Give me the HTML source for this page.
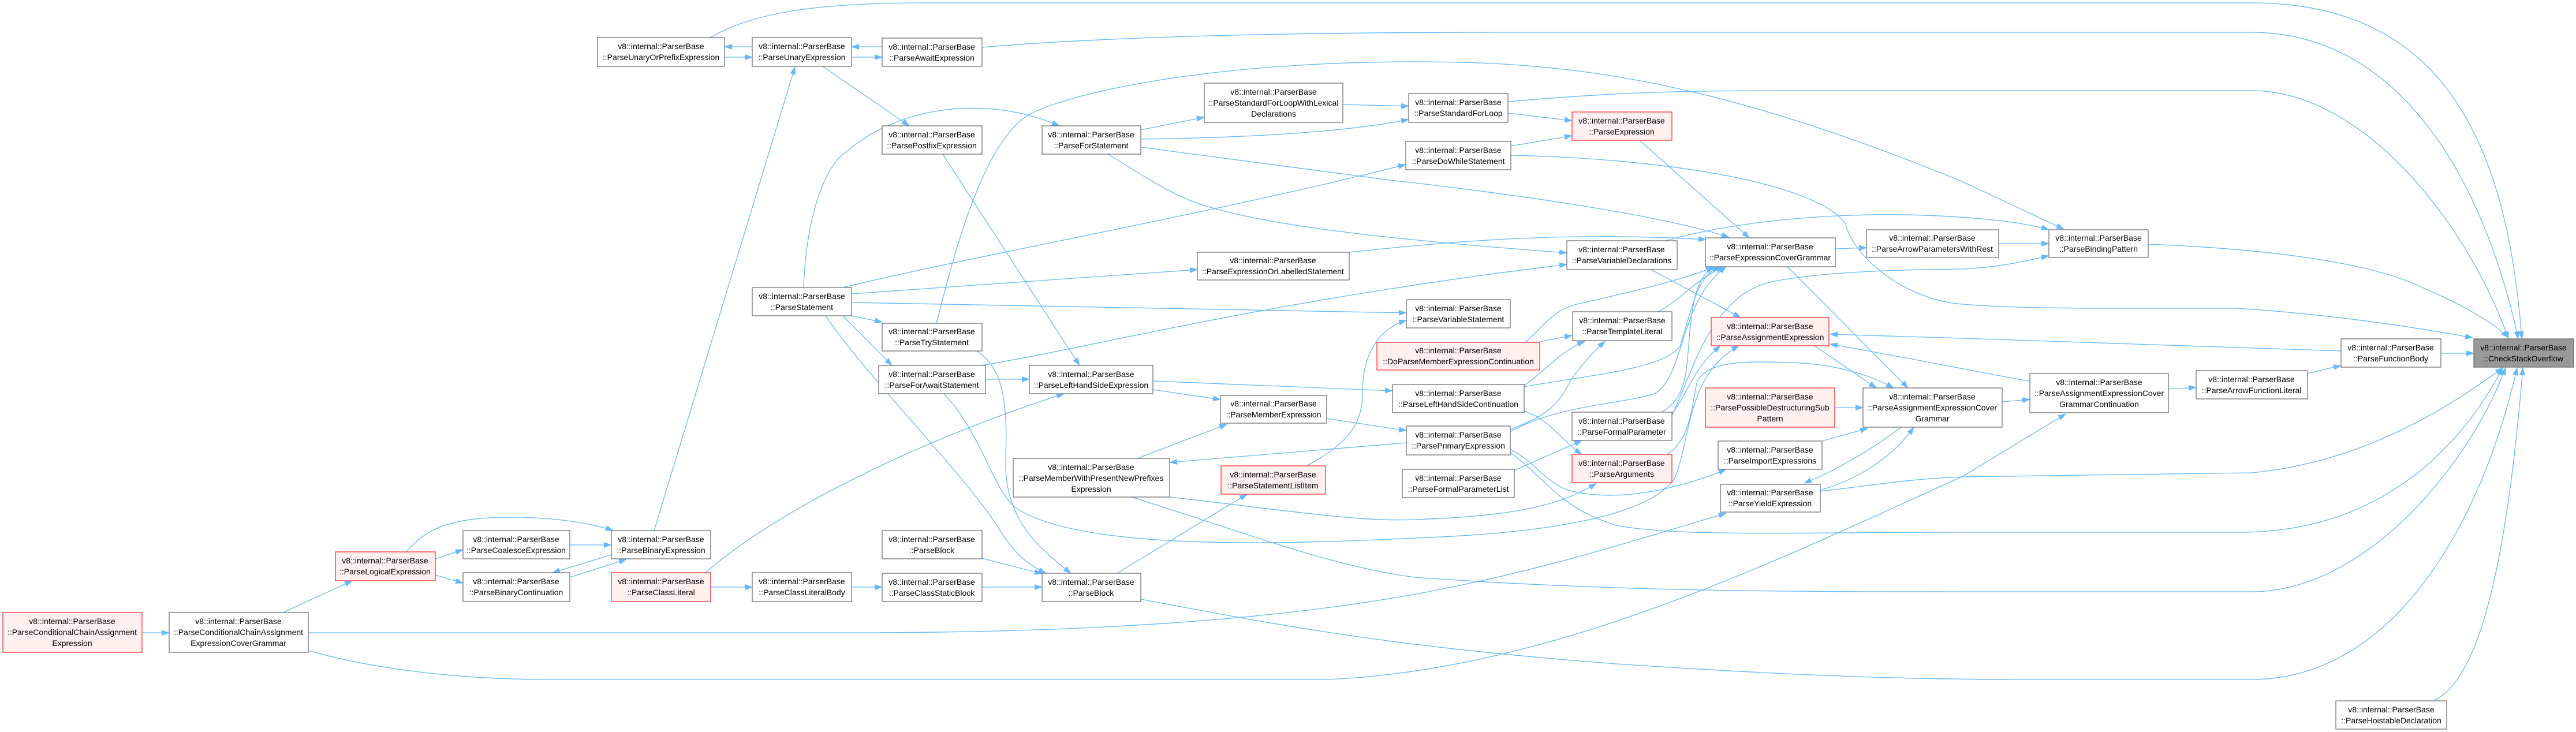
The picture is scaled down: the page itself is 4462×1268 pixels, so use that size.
<!DOCTYPE html>
<html><head><meta charset="utf-8"><style>
html,body{margin:0;padding:0;background:#fff;}
svg{display:block;}
text{font-family:"Liberation Sans",sans-serif;font-size:14px;fill:#000;text-anchor:middle;}
.n rect{fill:#fff;stroke:#666;stroke-width:1.2;}
.r rect{fill:#fff0f0;stroke:#ff2020;stroke-width:1.2;}
.g rect{fill:#999;stroke:#666;stroke-width:1.2;}
path.e{fill:none;stroke:#63b8ff;stroke-width:1.3;}
</style></head><body>
<svg width="4462" height="1268" viewBox="0 0 4462 1268" xmlns="http://www.w3.org/2000/svg">
<defs><marker id="a" markerWidth="14" markerHeight="10" refX="13" refY="5" orient="auto" markerUnits="userSpaceOnUse"><path d="M0,0 L14,5 L0,10 Z" fill="#63b8ff"/></marker></defs>
<g marker-end="url(#a)">
<path class="e" d="M1303,81 L1255,81"/>
<path class="e" d="M1255,99 L1303,99"/>
<path class="e" d="M1528,81 L1475,81"/>
<path class="e" d="M1475,99 L1528,99"/>
<path class="e" d="M1230,65 C1300,25 1400,5 1600,5 L3900,5 C4200,5 4340,200 4368,587"/>
<path class="e" d="M1701,82 C1900,65 2200,56 2600,56 L3900,56 C4150,56 4300,300 4362,587"/>
<path class="e" d="M2612,176 C2800,160 2900,157 3100,157 L3900,157 C4100,157 4280,400 4345,587"/>
<path class="e" d="M2617,269 C2900,275 3150,320 3197,388 C3210,445 3300,520 3400,527 C3500,535 3600,534 3874,534 C4050,545 4200,570 4283,585"/>
<path class="e" d="M1622,560 C1650,450 1700,250 1780,200 C1850,160 2100,107 2450,107 C2700,107 2950,130 3400,315 L3575,397"/>
<path class="e" d="M1392,498 C1395,400 1420,290 1470,260 C1550,190 1700,160 1835,218"/>
<path class="e" d="M1425,115 L1575,218"/>
<path class="e" d="M1976,225 L2086,203"/>
<path class="e" d="M1976,241 C2200,238 2350,225 2440,207"/>
<path class="e" d="M2326,181 L2440,184"/>
<path class="e" d="M2612,196 L2723,209"/>
<path class="e" d="M2617,253 L2723,235"/>
<path class="e" d="M1976,255 L2400,311 C2700,345 2900,380 2995,411"/>
<path class="e" d="M1919,267 C1990,310 2040,345 2100,360 C2200,390 2400,415 2714,438"/>
<path class="e" d="M1460,498 C1700,440 2100,370 2435,285"/>
<path class="e" d="M1475,509 L2074,467"/>
<path class="e" d="M1475,524 L2436,542"/>
<path class="e" d="M1475,547 L1528,558"/>
<path class="e" d="M1460,547 L1545,633"/>
<path class="e" d="M1430,547 C1500,650 1650,800 1720,900 C1740,930 1760,970 1812,993"/>
<path class="e" d="M1133,919 L1377,116"/>
<path class="e" d="M1692,608 C1740,640 1745,700 1742,800 C1740,900 1800,950 1855,993"/>
<path class="e" d="M1707,657 L1783,657"/>
<path class="e" d="M1700,633 C1900,600 2200,520 2714,458"/>
<path class="e" d="M1635,682 C1700,750 1720,850 1760,880 C1850,940 2100,950 2450,932 C2650,925 2850,900 2900,830 C2930,760 2920,650 3012,599"/>
<path class="e" d="M1633,267 L1870,633"/>
<path class="e" d="M1222,992 C1350,880 1600,760 1843,682"/>
<path class="e" d="M1997,660 L2412,677"/>
<path class="e" d="M1997,675 L2114,692"/>
<path class="e" d="M1970,794 L2125,735"/>
<path class="e" d="M2298,725 L2436,746"/>
<path class="e" d="M2436,767 L2026,801"/>
<path class="e" d="M2026,861 C2200,880 2350,905 2450,900 C2600,895 2700,880 2765,837"/>
<path class="e" d="M1960,861 C2150,920 2300,980 2450,1000 C2800,1025 3100,1025 3400,1025 L3900,1025 C4100,1025 4280,800 4340,637"/>
<path class="e" d="M2263,807 C2330,770 2360,740 2360,680 C2360,600 2400,565 2436,555"/>
<path class="e" d="M1701,967 L1805,994"/>
<path class="e" d="M1701,1017 L1805,1017"/>
<path class="e" d="M1475,1017 L1528,1017"/>
<path class="e" d="M1231,1017 L1303,1017"/>
<path class="e" d="M1935,993 L2160,856"/>
<path class="e" d="M1976,1038 C2200,1080 2400,1120 2800,1150 C3100,1170 3300,1177 3500,1177 L3900,1177 C4150,1177 4300,900 4360,637"/>
<path class="e" d="M246,1096 L293,1096"/>
<path class="e" d="M490,1061 L610,1006"/>
<path class="e" d="M534,1096 L1500,1096 C2000,1095 2300,1060 2500,1020 C2700,980 2850,930 2990,889"/>
<path class="e" d="M534,1127 C650,1160 800,1177 950,1177 L2300,1177 C2700,1160 3100,960 3400,825 L3578,717"/>
<path class="e" d="M754,968 L802,952"/>
<path class="e" d="M754,996 L802,1010"/>
<path class="e" d="M703,956 C740,915 780,895 895,896 C960,897 1020,905 1062,919"/>
<path class="e" d="M987,944 L1059,944"/>
<path class="e" d="M1059,961 L957,992"/>
<path class="e" d="M987,1000 L1085,969"/>
<path class="e" d="M2840,243 L3030,412"/>
<path class="e" d="M2885,417 C3000,385 3150,370 3300,372 C3400,374 3500,383 3549,398"/>
<path class="e" d="M2860,467 L3015,550"/>
<path class="e" d="M3179,431 L3233,429"/>
<path class="e" d="M3462,422 L3549,422"/>
<path class="e" d="M3096,462 L3305,672"/>
<path class="e" d="M2667,592 L2723,581"/>
<path class="e" d="M2642,593 C2680,560 2690,535 2740,525 C2850,500 2930,480 2968,462"/>
<path class="e" d="M2872,540 C2910,520 2930,490 2985,462"/>
<path class="e" d="M2640,668 C2680,640 2700,610 2745,591"/>
<path class="e" d="M2640,670 C2750,650 2880,640 2910,600 C2935,520 2940,480 2978,462"/>
<path class="e" d="M2640,712 C2690,730 2700,760 2740,787"/>
<path class="e" d="M2616,744 C2680,720 2700,700 2720,660 C2740,630 2760,610 2780,591"/>
<path class="e" d="M2616,748 C2700,700 2820,700 2870,680 C2920,640 2910,520 2990,462"/>
<path class="e" d="M2616,778 C2660,800 2680,840 2720,850 C2800,870 2900,850 2990,813"/>
<path class="e" d="M2616,784 C2680,830 2700,880 2800,910 C2900,930 3100,922 3400,922 L3880,922 C4100,922 4250,800 4335,637"/>
<path class="e" d="M2878,714 C2920,690 2920,650 2925,600 C2930,520 2940,480 2968,462"/>
<path class="e" d="M2896,716 C2920,690 2930,640 2980,599"/>
<path class="e" d="M2896,720 C2930,650 2960,520 3060,490 C3150,470 3300,467 3400,466 C3470,462 3510,452 3549,443"/>
<path class="e" d="M2623,815 L2740,763"/>
<path class="e" d="M2888,787 C2930,760 2930,700 2940,660 C2960,620 3050,627 3100,628 C3180,630 3240,650 3280,672"/>
<path class="e" d="M3143,599 L3250,672"/>
<path class="e" d="M4055,608 L3400,586 L3170,579"/>
<path class="e" d="M3516,660 C3450,650 3400,637 3170,596"/>
<path class="e" d="M3178,706 L3227,706"/>
<path class="e" d="M3156,764 L3235,742"/>
<path class="e" d="M3293,740 C3240,780 3180,815 3125,837"/>
<path class="e" d="M3153,849 C3220,830 3280,790 3315,740"/>
<path class="e" d="M3153,851 C3250,840 3300,830 3400,826 L3900,819 C4100,800 4250,700 4335,637"/>
<path class="e" d="M3468,696 L3516,692"/>
<path class="e" d="M3756,674 L3804,671"/>
<path class="e" d="M3997,647 L4055,633"/>
<path class="e" d="M4228,612 L4285,612"/>
<path class="e" d="M3721,423 C3900,430 4100,450 4200,500 C4270,530 4320,560 4345,585"/>
<path class="e" d="M4216,1213 C4290,1180 4340,1000 4370,637"/>
<path class="e" d="M2337,437 C2500,420 2700,400 2955,415"/>
</g>

<g class="n"><rect x="1035" y="65" width="220" height="50"/><text x="1145" y="85">v8::internal::ParserBase</text><text x="1145" y="104">::ParseUnaryOrPrefixExpression</text></g>
<g class="n"><rect x="1303" y="65" width="172" height="50"/><text x="1389" y="85">v8::internal::ParserBase</text><text x="1389" y="104">::ParseUnaryExpression</text></g>
<g class="n"><rect x="1528" y="66" width="173" height="49"/><text x="1614" y="86">v8::internal::ParserBase</text><text x="1614" y="105">::ParseAwaitExpression</text></g>
<g class="n"><rect x="2086" y="144" width="240" height="68"/><text x="2206" y="164">v8::internal::ParserBase</text><text x="2206" y="183">::ParseStandardForLoopWithLexical</text><text x="2206" y="202">Declarations</text></g>
<g class="n"><rect x="1528" y="218" width="173" height="49"/><text x="1614" y="238">v8::internal::ParserBase</text><text x="1614" y="257">::ParsePostfixExpression</text></g>
<g class="n"><rect x="1805" y="218" width="171" height="49"/><text x="1890" y="238">v8::internal::ParserBase</text><text x="1890" y="257">::ParseForStatement</text></g>
<g class="n"><rect x="2440" y="162" width="172" height="50"/><text x="2526" y="182">v8::internal::ParserBase</text><text x="2526" y="201">::ParseStandardForLoop</text></g>
<g class="r"><rect x="2723" y="194" width="173" height="49"/><text x="2809" y="214">v8::internal::ParserBase</text><text x="2809" y="233">::ParseExpression</text></g>
<g class="n"><rect x="2435" y="245" width="182" height="49"/><text x="2526" y="265">v8::internal::ParserBase</text><text x="2526" y="284">::ParseDoWhileStatement</text></g>
<g class="n"><rect x="2074" y="437" width="263" height="48"/><text x="2205" y="456">v8::internal::ParserBase</text><text x="2205" y="475">::ParseExpressionOrLabelledStatement</text></g>
<g class="n"><rect x="1303" y="498" width="172" height="49"/><text x="1389" y="518">v8::internal::ParserBase</text><text x="1389" y="537">::ParseStatement</text></g>
<g class="n"><rect x="2714" y="417" width="191" height="50"/><text x="2809" y="437">v8::internal::ParserBase</text><text x="2809" y="456">::ParseVariableDeclarations</text></g>
<g class="n"><rect x="2954" y="412" width="225" height="50"/><text x="3066" y="432">v8::internal::ParserBase</text><text x="3066" y="451">::ParseExpressionCoverGrammar</text></g>
<g class="n"><rect x="3233" y="398" width="229" height="48"/><text x="3347" y="417">v8::internal::ParserBase</text><text x="3347" y="436">::ParseArrowParametersWithRest</text></g>
<g class="n"><rect x="3549" y="398" width="172" height="48"/><text x="3635" y="417">v8::internal::ParserBase</text><text x="3635" y="436">::ParseBindingPattern</text></g>
<g class="n"><rect x="2436" y="519" width="180" height="49"/><text x="2526" y="539">v8::internal::ParserBase</text><text x="2526" y="558">::ParseVariableStatement</text></g>
<g class="n"><rect x="2724" y="540" width="172" height="50"/><text x="2810" y="560">v8::internal::ParserBase</text><text x="2810" y="579">::ParseTemplateLiteral</text></g>
<g class="r"><rect x="2385" y="593" width="282" height="48"/><text x="2526" y="612">v8::internal::ParserBase</text><text x="2526" y="631">::DoParseMemberExpressionContinuation</text></g>
<g class="r"><rect x="2964" y="550" width="204" height="49"/><text x="3066" y="570">v8::internal::ParserBase</text><text x="3066" y="589">::ParseAssignmentExpression</text></g>
<g class="n"><rect x="1528" y="560" width="173" height="48"/><text x="1614" y="579">v8::internal::ParserBase</text><text x="1614" y="598">::ParseTryStatement</text></g>
<g class="n"><rect x="1522" y="633" width="185" height="49"/><text x="1614" y="653">v8::internal::ParserBase</text><text x="1614" y="672">::ParseForAwaitStatement</text></g>
<g class="n"><rect x="1783" y="633" width="214" height="49"/><text x="1890" y="653">v8::internal::ParserBase</text><text x="1890" y="672">::ParseLeftHandSideExpression</text></g>
<g class="n"><rect x="2412" y="666" width="228" height="49"/><text x="2526" y="686">v8::internal::ParserBase</text><text x="2526" y="705">::ParseLeftHandSideContinuation</text></g>
<g class="n"><rect x="2723" y="714" width="173" height="49"/><text x="2809" y="734">v8::internal::ParserBase</text><text x="2809" y="753">::ParseFormalParameter</text></g>
<g class="r"><rect x="2954" y="672" width="224" height="68"/><text x="3066" y="692">v8::internal::ParserBase</text><text x="3066" y="711">::ParsePossibleDestructuringSub</text><text x="3066" y="730">Pattern</text></g>
<g class="n"><rect x="3227" y="672" width="241" height="68"/><text x="3347" y="692">v8::internal::ParserBase</text><text x="3347" y="711">::ParseAssignmentExpressionCover</text><text x="3347" y="730">Grammar</text></g>
<g class="n"><rect x="2114" y="685" width="184" height="48"/><text x="2206" y="704">v8::internal::ParserBase</text><text x="2206" y="723">::ParseMemberExpression</text></g>
<g class="n"><rect x="2436" y="738" width="180" height="50"/><text x="2526" y="758">v8::internal::ParserBase</text><text x="2526" y="777">::ParsePrimaryExpression</text></g>
<g class="n"><rect x="2976" y="764" width="180" height="49"/><text x="3066" y="784">v8::internal::ParserBase</text><text x="3066" y="803">::ParseImportExpressions</text></g>
<g class="r"><rect x="2723" y="787" width="173" height="49"/><text x="2809" y="807">v8::internal::ParserBase</text><text x="2809" y="826">::ParseArguments</text></g>
<g class="n"><rect x="1755" y="794" width="271" height="67"/><text x="1890" y="814">v8::internal::ParserBase</text><text x="1890" y="833">::ParseMemberWithPresentNewPrefixes</text><text x="1890" y="852">Expression</text></g>
<g class="r"><rect x="2115" y="807" width="181" height="49"/><text x="2205" y="827">v8::internal::ParserBase</text><text x="2205" y="846">::ParseStatementListItem</text></g>
<g class="n"><rect x="2429" y="813" width="194" height="49"/><text x="2526" y="833">v8::internal::ParserBase</text><text x="2526" y="852">::ParseFormalParameterList</text></g>
<g class="n"><rect x="2980" y="839" width="173" height="48"/><text x="3066" y="858">v8::internal::ParserBase</text><text x="3066" y="877">::ParseYieldExpression</text></g>
<g class="n"><rect x="1528" y="919" width="173" height="49"/><text x="1614" y="939">v8::internal::ParserBase</text><text x="1614" y="958">::ParseBlock</text></g>
<g class="n"><rect x="1528" y="993" width="173" height="49"/><text x="1614" y="1013">v8::internal::ParserBase</text><text x="1614" y="1032">::ParseClassStaticBlock</text></g>
<g class="n"><rect x="1805" y="993" width="171" height="49"/><text x="1890" y="1013">v8::internal::ParserBase</text><text x="1890" y="1032">::ParseBlock</text></g>
<g class="r"><rect x="5" y="1061" width="241" height="69"/><text x="125" y="1081">v8::internal::ParserBase</text><text x="125" y="1100">::ParseConditionalChainAssignment</text><text x="125" y="1119">Expression</text></g>
<g class="n"><rect x="293" y="1061" width="241" height="69"/><text x="413" y="1081">v8::internal::ParserBase</text><text x="413" y="1100">::ParseConditionalChainAssignment</text><text x="413" y="1119">ExpressionCoverGrammar</text></g>
<g class="r"><rect x="581" y="956" width="173" height="50"/><text x="667" y="976">v8::internal::ParserBase</text><text x="667" y="995">::ParseLogicalExpression</text></g>
<g class="n"><rect x="802" y="919" width="185" height="49"/><text x="894" y="939">v8::internal::ParserBase</text><text x="894" y="958">::ParseCoalesceExpression</text></g>
<g class="n"><rect x="1059" y="919" width="172" height="49"/><text x="1145" y="939">v8::internal::ParserBase</text><text x="1145" y="958">::ParseBinaryExpression</text></g>
<g class="n"><rect x="802" y="992" width="185" height="50"/><text x="894" y="1012">v8::internal::ParserBase</text><text x="894" y="1031">::ParseBinaryContinuation</text></g>
<g class="r"><rect x="1059" y="992" width="172" height="50"/><text x="1145" y="1012">v8::internal::ParserBase</text><text x="1145" y="1031">::ParseClassLiteral</text></g>
<g class="n"><rect x="1303" y="992" width="172" height="50"/><text x="1389" y="1012">v8::internal::ParserBase</text><text x="1389" y="1031">::ParseClassLiteralBody</text></g>
<g class="g"><rect x="4285" y="587" width="173" height="49"/><text x="4371" y="607">v8::internal::ParserBase</text><text x="4371" y="626">::CheckStackOverflow</text></g>
<g class="n"><rect x="4055" y="587" width="173" height="49"/><text x="4141" y="607">v8::internal::ParserBase</text><text x="4141" y="626">::ParseFunctionBody</text></g>
<g class="n"><rect x="3804" y="642" width="193" height="49"/><text x="3900" y="662">v8::internal::ParserBase</text><text x="3900" y="681">::ParseArrowFunctionLiteral</text></g>
<g class="n"><rect x="3516" y="647" width="240" height="68"/><text x="3636" y="667">v8::internal::ParserBase</text><text x="3636" y="686">::ParseAssignmentExpressionCover</text><text x="3636" y="705">GrammarContinuation</text></g>
<g class="n"><rect x="4046" y="1214" width="192" height="49"/><text x="4142" y="1234">v8::internal::ParserBase</text><text x="4142" y="1253">::ParseHoistableDeclaration</text></g>
</svg>
</body></html>
